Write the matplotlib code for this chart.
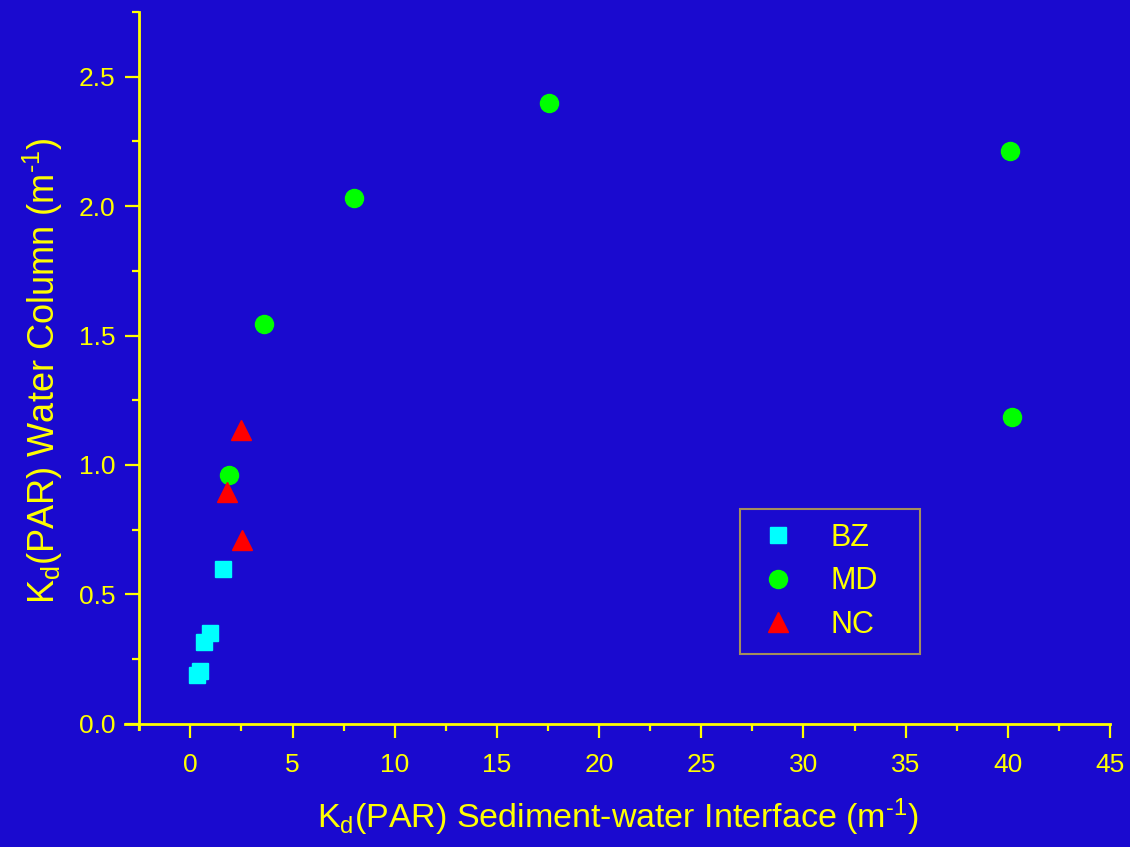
import matplotlib
matplotlib.use("Agg")
import matplotlib.pyplot as plt
from matplotlib.ticker import MultipleLocator

plt.rcParams['font.family'] = ['Liberation Sans', 'DejaVu Sans']
plt.rcParams['mathtext.fontset'] = 'custom'
plt.rcParams['mathtext.rm'] = 'Liberation Sans'
plt.rcParams['mathtext.it'] = 'Liberation Sans'
plt.rcParams['mathtext.bf'] = 'Liberation Sans'

# Data
bz_x = [1.6, 0.98, 0.68, 0.49, 0.33]
bz_y = [0.60, 0.35, 0.315, 0.206, 0.19]
md_x = [1.87, 3.62, 8.02, 17.56, 40.1, 40.2]
md_y = [0.962, 1.546, 2.03, 2.40, 2.215, 1.185]
nc_x = [2.5, 1.79, 2.53]
nc_y = [1.137, 0.895, 0.712]
labels = ['BZ', 'MD', 'NC']

BG = '#1a0acf'
YEL = '#ffff00'

fig = plt.figure(figsize=(11.3, 8.47), dpi=100, facecolor=BG)
ax = fig.add_axes([0.1106, 0.1393, 0.9823 - 0.1106, 0.9858 - 0.1393])
ax.set_facecolor(BG)

ax.plot(bz_x, bz_y, 's', color='#00ffff', markersize=11, linestyle='none', label=labels[0])
ax.plot(md_x, md_y, 'o', color='#00ff00', markersize=13, linestyle='none', label=labels[1])
ax.plot(nc_x, nc_y, '^', color='#ff0000', markersize=15, linestyle='none', label=labels[2])

ax.set_xlim(-3.2, 45)
ax.set_ylim(-0.02, 2.75)
ax.spines['left'].set_position(('data', -2.5))
ax.spines['bottom'].set_position(('data', 0))
for s in ['top', 'right']:
    ax.spines[s].set_visible(False)
for s in ['left', 'bottom']:
    ax.spines[s].set_color(YEL)
    ax.spines[s].set_linewidth(2)

ax.xaxis.set_minor_locator(MultipleLocator(2.5))
ax.yaxis.set_minor_locator(MultipleLocator(0.25))
ax.set_xticks([0, 5, 10, 15, 20, 25, 30, 35, 40, 45])
ax.set_yticks([0.0, 0.5, 1.0, 1.5, 2.0, 2.5])
ax.set_yticklabels(['0.0', '0.5', '1.0', '1.5', '2.0', '2.5'])
ax.tick_params(which='major', direction='out', length=10, width=1.6, color=YEL,
               labelcolor=YEL, labelsize=19)
ax.tick_params(axis='x', which='major', pad=11)
ax.tick_params(axis='y', which='major', pad=7)
ax.tick_params(which='minor', direction='out', length=5, width=1.6, color=YEL)

ax.set_xlabel(r'K$_\mathregular{d}$(PAR) Sediment-water Interface (m$^{\text{-1}}$)',
              color=YEL, fontsize=24.5, labelpad=14)
ax.set_ylabel(r'K$_\mathregular{d}$(PAR) Water Column (m$^{\text{-1}}$)',
              color=YEL, fontsize=26, labelpad=10)

leg = ax.legend(loc='lower left', bbox_to_anchor=(0.655, 0.228, 0.159, 0.17),
                bbox_transform=fig.transFigure, mode='expand',
                borderaxespad=0, frameon=True, fancybox=False, fontsize=22,
                labelspacing=0.45, handletextpad=0.9, borderpad=0.45, handlelength=1.6)
leg.get_frame().set_facecolor(BG)
leg.get_frame().set_edgecolor('#c8b040')
leg.get_frame().set_linewidth(1.5)
for t in leg.get_texts():
    t.set_color(YEL)

fig.savefig('out.png', dpi=100, facecolor=BG)
